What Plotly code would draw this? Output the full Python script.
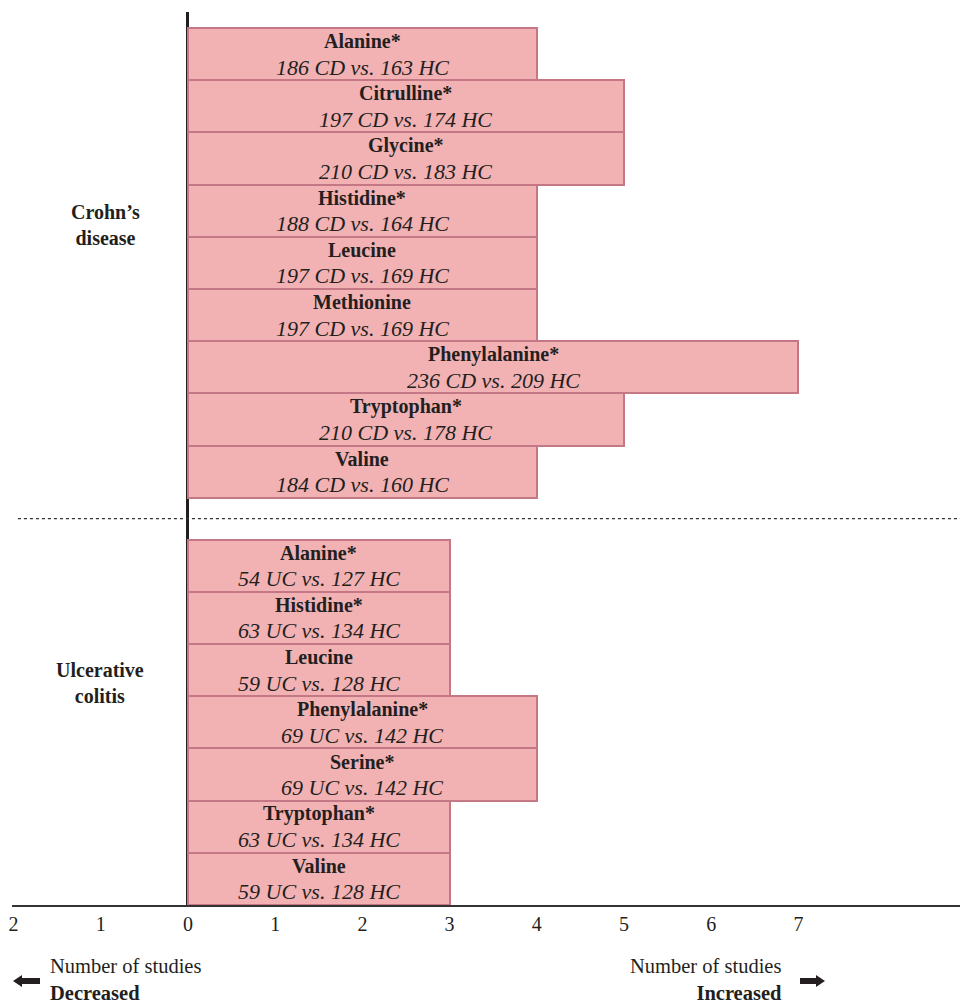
import plotly.graph_objects as go

# ---- data ----
cd_names = ["Alanine*", "Citrulline*", "Glycine*", "Histidine*", "Leucine",
            "Methionine", "Phenylalanine*", "Tryptophan*", "Valine"]
cd_values = [4, 5, 5, 4, 4, 4, 7, 5, 4]
cd_counts = ["186 CD vs. 163 HC", "197 CD vs. 174 HC", "210 CD vs. 183 HC",
             "188 CD vs. 164 HC", "197 CD vs. 169 HC", "197 CD vs. 169 HC",
             "236 CD vs. 209 HC", "210 CD vs. 178 HC", "184 CD vs. 160 HC"]

uc_names = ["Alanine*", "Histidine*", "Leucine", "Phenylalanine*", "Serine*",
            "Tryptophan*", "Valine"]
uc_values = [3, 3, 3, 4, 4, 3, 3]
uc_counts = ["54 UC vs. 127 HC", "63 UC vs. 134 HC", "59 UC vs. 128 HC",
             "69 UC vs. 142 HC", "69 UC vs. 142 HC", "63 UC vs. 134 HC",
             "59 UC vs. 128 HC"]

tick_vals = [-2, -1, 0, 1, 2, 3, 4, 5, 6, 7]
tick_text = ["2", "1", "0", "1", "2", "3", "4", "5", "6", "7"]

groups = ["Crohn’s<br>disease", "Ulcerative<br>colitis"]
axis_note = ["Number of studies<br><b>Decreased</b>",
             "Number of studies<br><b>Increased</b>"]

# ---- layout of rows (y in row units, bottom = 0) ----
GAP = 0.8
n_uc = len(uc_names)
n_cd = len(cd_names)
uc_y = [n_uc - 0.5 - i for i in range(n_uc)]
cd_y = [n_uc + GAP + n_cd - 0.5 - i for i in range(n_cd)]
y_top = n_uc + GAP + n_cd + 0.307

FILL = "#F2B2B4"
EDGE = "#C47784"
TXT = "#231F20"
FONT = "Liberation Serif"

fig = go.Figure()
for ys, vals in ((cd_y, cd_values), (uc_y, uc_values)):
    fig.add_trace(go.Bar(
        y=ys, x=vals, base=0, orientation="h", width=1,
        marker=dict(color=FILL, line=dict(color=EDGE, width=2)),
        hoverinfo="skip", showlegend=False))

ann = []
for ys, vals, names, counts in ((cd_y, cd_values, cd_names, cd_counts),
                                (uc_y, uc_values, uc_names, uc_counts)):
    for y, v, n, c in zip(ys, vals, names, counts):
        ann.append(dict(x=v / 2, y=y, text=f"<b>{n}</b>", showarrow=False,
                        yshift=13, font=dict(size=20, color=TXT, family=FONT)))
        ann.append(dict(x=v / 2, y=y, text=f"<i>{c}</i>", showarrow=False,
                        yshift=-13, font=dict(size=22, color=TXT, family=FONT)))

ann.append(dict(x=-0.95, y=13.03, text=f"<b>{groups[0]}</b>", showarrow=False,
                font=dict(size=20, color=TXT, family=FONT)))
ann.append(dict(x=-1.01, y=4.25, text=f"<b>{groups[1]}</b>", showarrow=False,
                font=dict(size=20, color=TXT, family=FONT)))

# bottom labels (paper coordinates: plot area x 12..960, y 12..905 px)
def px(x):
    return (x - 12) / 948.0

def py(y):
    return (905 - y) / 893.0

ann += [
    dict(xref="paper", yref="paper", x=px(48), y=py(979), xanchor="left",
         yanchor="middle", align="left", text=axis_note[0], showarrow=False,
         font=dict(size=20.5, color=TXT, family=FONT)),
    dict(xref="paper", yref="paper", x=px(784), y=py(979), xanchor="right",
         yanchor="middle", align="right", text=axis_note[1], showarrow=False,
         font=dict(size=20.5, color=TXT, family=FONT)),
]

def arrow_path(x0, x1, yc, left):
    if left:
        tip, hb = x0, x0 + 9
        pts = [(tip, yc), (hb, yc - 6), (hb, yc - 3), (x1, yc - 3), (x1, yc + 3),
               (hb, yc + 3), (hb, yc + 6)]
    else:
        tip, hb = x1, x1 - 9
        pts = [(tip, yc), (hb, yc - 6), (hb, yc - 3), (x0, yc - 3), (x0, yc + 3),
               (hb, yc + 3), (hb, yc + 6)]
    return "M " + " L ".join(f"{px(a):.5f},{py(b):.5f}" for a, b in pts) + " Z"

shapes = [
    dict(type="line", xref="x", yref="y", x0=-1.95, x1=8.9, y0=n_uc + GAP / 2,
         y1=n_uc + GAP / 2, line=dict(color="#333333", width=1.2, dash="dot")),
    dict(type="path", xref="paper", yref="paper",
         path=arrow_path(13, 40, 981, True), fillcolor=TXT, line=dict(width=0)),
    dict(type="path", xref="paper", yref="paper",
         path=arrow_path(800, 825, 981, False), fillcolor=TXT, line=dict(width=0)),
]

fig.update_layout(
    width=961, height=1006,
    margin=dict(l=12, r=1, t=12, b=101),
    paper_bgcolor="white", plot_bgcolor="white",
    bargap=0, showlegend=False,
    annotations=ann, shapes=shapes,
    font=dict(family=FONT, color=TXT),
    xaxis=dict(range=[-2.018, 8.853], tickvals=tick_vals, ticktext=tick_text,
               showgrid=False, zeroline=True, zerolinecolor=TXT,
               zerolinewidth=2.5, showline=True, linecolor="#333333",
               linewidth=1.5, ticks="", layer="above traces",
               tickfont=dict(size=20, color=TXT, family=FONT), fixedrange=True),
    yaxis=dict(range=[0, y_top], showgrid=False, zeroline=False,
               showticklabels=False, showline=False, fixedrange=True),
)

fig.write_html(
    "out.html",
    config={"displayModeBar": False},
    post_script="document.body.style.margin='0px';document.body.style.overflow='hidden';",
)
